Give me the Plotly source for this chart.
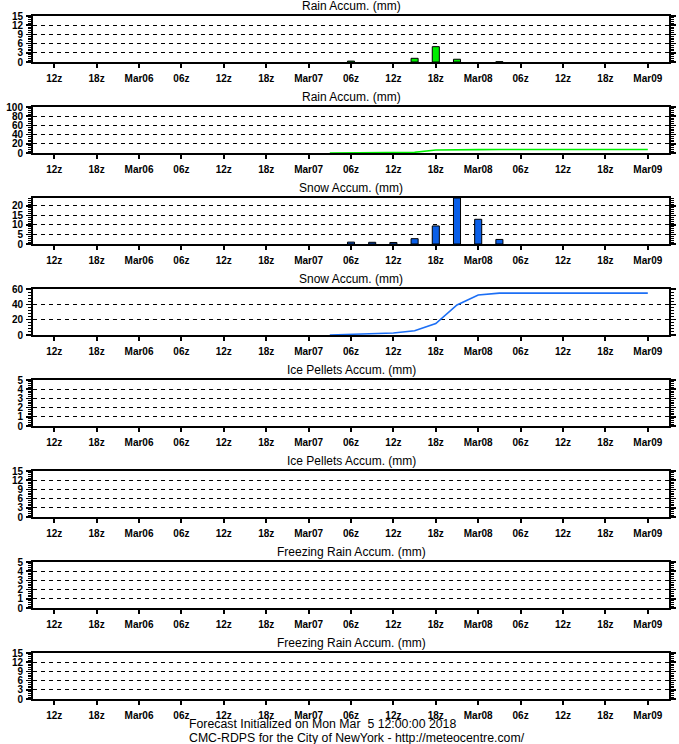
import plotly.graph_objects as go

# forecast hours since Mon Mar 5 12z 2018
hours = [0, 3, 6, 9, 12, 15, 18, 21, 24, 27, 30, 33, 36, 39, 42, 45, 48, 51, 54, 57,
         60, 63, 66, 69, 72, 75, 78, 81, 84]
tick_hours = [0, 6, 12, 18, 24, 30, 36, 42, 48, 54, 60, 66, 72, 78, 84]
tick_labels = ["12z", "18z", "Mar06", "06z", "12z", "18z", "Mar07", "06z", "12z",
               "18z", "Mar08", "06z", "12z", "18z", "Mar09"]

rain_3h = [0, 0, 0, 0, 0, 0, 0, 0, 0, 0, 0, 0, 0, 0, 0.3, 0, 0, 1.2, 5.0, 0.9,
           0, 0.1, 0, 0, 0, 0, 0, 0, 0]
rain_acc = [0, 0, 0, 0, 0, 0, 0, 0, 0, 0, 0, 0, 0, 0, 0.3, 0.3, 0.3, 1.5, 6.5, 7.4,
            7.4, 7.5, 7.5, 7.5, 7.5, 7.5, 7.5, 7.5, 7.5]
snow_3h = [0, 0, 0, 0, 0, 0, 0, 0, 0, 0, 0, 0, 0, 0, 1.0, 0.9, 0.8, 2.8, 9.5, 24.2,
           13.0, 2.4, 0, 0, 0, 0, 0, 0, 0]
snow_acc = [0, 0, 0, 0, 0, 0, 0, 0, 0, 0, 0, 0, 0, 0, 1.0, 1.9, 2.7, 5.5, 15.0, 39.2,
            52.2, 54.6, 54.6, 54.6, 54.6, 54.6, 54.6, 54.6, 54.6]
ice_3h = [0] * 29
ice_acc = [0] * 29
frz_3h = [0] * 29
frz_acc = [0] * 29

titles = ["Rain Accum. (mm)", "Rain Accum. (mm)", "Snow Accum. (mm)", "Snow Accum. (mm)",
          "Ice Pellets Accum. (mm)", "Ice Pellets Accum. (mm)",
          "Freezing Rain Accum. (mm)", "Freezing Rain Accum. (mm)"]
y_max = [15, 100, 24.2, 60, 5, 15, 5, 15]
y_step = [3, 20, 5, 20, 1, 3, 1, 3]
series = [("bar", rain_3h), ("line", rain_acc), ("bar", snow_3h), ("line", snow_acc),
          ("bar", ice_3h), ("line", ice_acc), ("bar", frz_3h), ("line", frz_acc)]
colors = ["#00f000", "#00f000", "#0a5fe8", "#1c6ff5", "#c000c0", "#c000c0", "#ff0000", "#ff0000"]


def hide_zero_runs(vals):
    # zero stretches lie on the frame; hide them like the original drawing does
    out = []
    n = len(vals)
    for k, v in enumerate(vals):
        nxt = vals[k + 1] if k + 1 < n else 0
        out.append(None if (v == 0 and nxt == 0) else v)
    return out


W, H = 679, 744
fig = go.Figure()
font_tick = dict(family="Liberation Sans", size=10, color="black", weight="bold")

for i in range(8):
    top_px = 16 + 91 * i
    bot_px = top_px + 46
    dom = [1 - bot_px / H, 1 - top_px / H]
    xa = "x" if i == 0 else f"x{i+1}"
    ya = "y" if i == 0 else f"y{i+1}"
    kind, vals = series[i]
    if kind == "bar":
        fig.add_trace(go.Bar(x=hours, y=[v if v > 0 else None for v in vals],
                             xaxis=xa, yaxis=ya, width=1.0,
                             marker=dict(color=colors[i], line=dict(color="black", width=1)),
                             showlegend=False))
    else:
        fig.add_trace(go.Scatter(x=hours, y=hide_zero_runs(vals), xaxis=xa, yaxis=ya,
                                 mode="lines", connectgaps=False,
                                 line=dict(color=colors[i], width=1.6), showlegend=False))
    xkey = "xaxis" if i == 0 else f"xaxis{i+1}"
    ykey = "yaxis" if i == 0 else f"yaxis{i+1}"
    fig.update_layout(**{
        xkey: dict(domain=[0, 1], anchor=ya, range=[-3, 87], tickmode="array",
                   tickvals=tick_hours, ticktext=tick_labels, ticks="outside",
                   ticklen=4, tickwidth=2, tickcolor="black", showline=True,
                   linewidth=2, linecolor="black", mirror=True, showgrid=False,
                   zeroline=False, tickfont=font_tick, ticklabelstandoff=2,
                   automargin=False),
        ykey: dict(domain=dom, anchor=xa, range=[0, y_max[i]], tickmode="linear",
                   tick0=0, dtick=y_step[i], ticks="outside", ticklen=5, tickwidth=1.5,
                   tickcolor="black", showline=True, linewidth=2, linecolor="black",
                   mirror="ticks", showgrid=True, gridcolor="black", gridwidth=1,
                   griddash="4px,4px", zeroline=False, tickfont=font_tick,
                   ticklabelstandoff=1, automargin=False,
                   minor=dict(dtick=y_step[i] / 5, ticks="outside", ticklen=3,
                              tickwidth=1, tickcolor="black", showgrid=False)),
    })
    fig.add_annotation(text=titles[i], xref="paper", yref="paper", x=0.5, y=dom[1],
                       xanchor="center", yanchor="bottom", yshift=1, showarrow=False,
                       font=dict(family="Liberation Sans", size=12, color="black"))

fig.add_annotation(text="Forecast Initialized on Mon Mar &nbsp;5 12:00:00 2018",
                   xref="paper", yref="paper", x=(187 - 33) / (W - 43), y=1 - 724 / H,
                   xanchor="left", yanchor="middle", showarrow=False,
                   font=dict(family="Liberation Sans", size=12.3, color="black"))
fig.add_annotation(text="CMC-RDPS for the City of NewYork - http://meteocentre.com/",
                   xref="paper", yref="paper", x=(187 - 33) / (W - 43), y=1 - 738 / H,
                   xanchor="left", yanchor="middle", showarrow=False,
                   font=dict(family="Liberation Sans", size=12.3, color="black"))

fig.update_layout(width=W, height=H, margin=dict(l=33, r=10, t=0, b=0, pad=0),
                  paper_bgcolor="white", plot_bgcolor="white", bargap=0,
                  showlegend=False, hovermode=False)
fig.write_html("out.html", config={"displayModeBar": False, "staticPlot": True},
               post_script="document.body.style.margin='0';document.body.style.padding='0';")
